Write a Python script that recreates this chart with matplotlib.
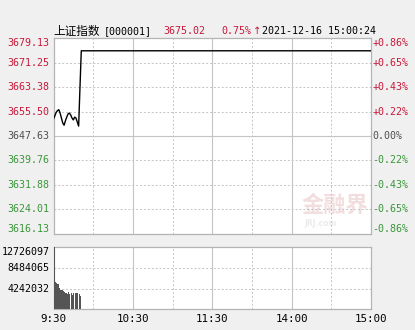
import matplotlib
matplotlib.use("Agg")
import matplotlib.pyplot as plt
import matplotlib.transforms as mtransforms
import numpy as np

# ---------------- data ----------------
prev_close = 3647.63
price_ticks = [3616.13, 3624.01, 3631.88, 3639.76, 3647.63, 3655.50, 3663.38, 3671.25, 3679.13]
pct_ticks = ["-0.86%", "-0.65%", "-0.43%", "-0.22%", "0.00%", "+0.22%", "+0.43%", "+0.65%", "+0.86%"]
# per-minute prices from 9:30 (minute 0) onward
early_prices = [3653.1, 3654.1, 3655.2, 3655.8, 3656.1, 3655.0, 3653.4, 3651.8, 3651.1, 3652.5,
                3653.7, 3654.7, 3655.0, 3654.4, 3653.4, 3652.8, 3653.7, 3653.4, 3652.1, 3650.8,
                3663.1, 3675.02]
last_price = 3675.02
end_minute = 240
volumes = [12726097, 5700000, 5450000, 5200000, 4350000, 4000000, 3950000, 3800000, 3650000,
           3350000, 3200000, 3550000, 3100000, 3250000, 2950000, 3400000, 3250000, 3300000,
           3350000, 3200000, 2800000]
vol_ticks = [4242032, 8484065, 12726097]
vol_labels = ["4242032", "8484065", "12726097"]
time_ticks = [0, 60, 120, 180, 240]
time_labels = ["9:30", "10:30", "11:30", "14:00", "15:00"]

RED = "#c8183a"
GREEN = "#3a963a"
GRAY = "#505050"
MONO = "DejaVu Sans Mono"
FS = 7.2

W, H = 415, 330
fig = plt.figure(figsize=(W / 100, H / 100), dpi=100)
fig.patch.set_facecolor("#f0f0f0")

def fx(px):
    return px / W

def fy(py):
    return 1 - py / H

ax = fig.add_axes([fx(53.5), fy(234), fx(371) - fx(53.5), fy(38) - fy(234)])
axv = fig.add_axes([fx(53.5), fy(309.3), fx(371) - fx(53.5), fy(247.3) - fy(309.3)])

for a in (ax, axv):
    a.set_facecolor("white")
    a.set_xlim(0, end_minute)
    for s in a.spines.values():
        s.set_color("#b4b4b4")
        s.set_linewidth(0.9)
    a.set_xticks([])
    a.set_yticks([])

# grid lines (main)
ax.set_ylim(price_ticks[0], price_ticks[-1])
for v in price_ticks[1:-1]:
    if v == prev_close:
        ax.axhline(v, color="#c4c4c4", lw=0.8, zorder=1)
    else:
        ax.axhline(v, color="#c4c4c4", lw=0.7, ls=(0, (2, 2)), zorder=1)
for m in range(30, end_minute, 30):
    if m in (60, 120, 180):
        ax.axvline(m, color="#c4c4c4", lw=0.8, zorder=1)
        axv.axvline(m, color="#c4c4c4", lw=0.8, zorder=1)
    else:
        ax.axvline(m, color="#c4c4c4", lw=0.7, ls=(0, (2, 2)), zorder=1)
        axv.axvline(m, color="#c4c4c4", lw=0.7, ls=(0, (2, 2)), zorder=1)

# watermark
ax.text(0.885, 0.145, "金融界", transform=ax.transAxes, ha="center", va="center",
        fontsize=16, fontweight="bold", color="#f2dede", family=["Noto Sans CJK SC", "DejaVu Sans"], zorder=0)
ax.text(0.84, 0.055, "JRJ.com", transform=ax.transAxes, ha="center", va="center",
        fontsize=5.5, fontweight="bold", color="#ebebeb", zorder=0)

# price line
xs = list(range(len(early_prices))) + [end_minute]
ys = list(early_prices) + [last_price]
ax.plot(xs, ys, color="black", lw=1.0, zorder=3)

# price labels
tl = mtransforms.blended_transform_factory(ax.transAxes, ax.transData)
for i, (v, p) in enumerate(zip(price_ticks, pct_ticks)):
    if v > prev_close + 0.01:
        c = RED
    elif v < prev_close - 0.01:
        c = GREEN
    else:
        c = GRAY
    va = "center"
    if i == 0:
        va = "bottom"
    elif i == len(price_ticks) - 1:
        va = "top"
    ax.text(-0.012, v, f"{v:.2f}", transform=tl, ha="right", va=va, color=c,
            fontsize=FS, family=MONO)
    ax.text(1.004, v, p, transform=tl, ha="left", va=va, color=c,
            fontsize=FS, family=MONO)

# volume
axv.set_ylim(0, vol_ticks[-1])
for v in vol_ticks[:-1]:
    axv.axhline(v, color="#c4c4c4", lw=0.7, ls=(0, (2, 2)), zorder=1)
axv.bar(range(len(volumes)), volumes, width=0.85, color="#555555", align="edge", zorder=3)
tv = mtransforms.blended_transform_factory(axv.transAxes, axv.transData)
for v, lab in zip(vol_ticks, vol_labels):
    va = "top" if v == vol_ticks[-1] else "center"
    axv.text(-0.012, v, lab, transform=tv, ha="right", va=va, color="black",
             fontsize=FS, family=MONO)
tt = mtransforms.blended_transform_factory(axv.transData, axv.transAxes)
for m, lab in zip(time_ticks, time_labels):
    axv.text(m, -0.08, lab, transform=tt, ha="center", va="top", color="black",
             fontsize=FS + 0.6, family=MONO)

# title
ty = fy(31.5)
fig.text(fx(53), ty, "上证指数", ha="left", va="center", fontsize=8.4,
         family=["Noto Sans CJK SC", "DejaVu Sans"], color="black")
fig.text(fx(104), ty, "[000001]", ha="left", va="center", fontsize=FS, family=MONO, color="black")
fig.text(fx(163), ty, "3675.02", ha="left", va="center", fontsize=FS, family=MONO, color=RED)
fig.text(fx(221), ty, "0.75%", ha="left", va="center", fontsize=FS, family=MONO, color=RED)
fig.text(fx(253), ty, "↑", ha="left", va="center", fontsize=FS, family="DejaVu Sans", color=RED)
fig.text(fx(262), ty, "2021-12-16 15:00:24", ha="left", va="center", fontsize=FS, family=MONO, color="black")

fig.savefig("out.png", dpi=100, facecolor=fig.get_facecolor())
